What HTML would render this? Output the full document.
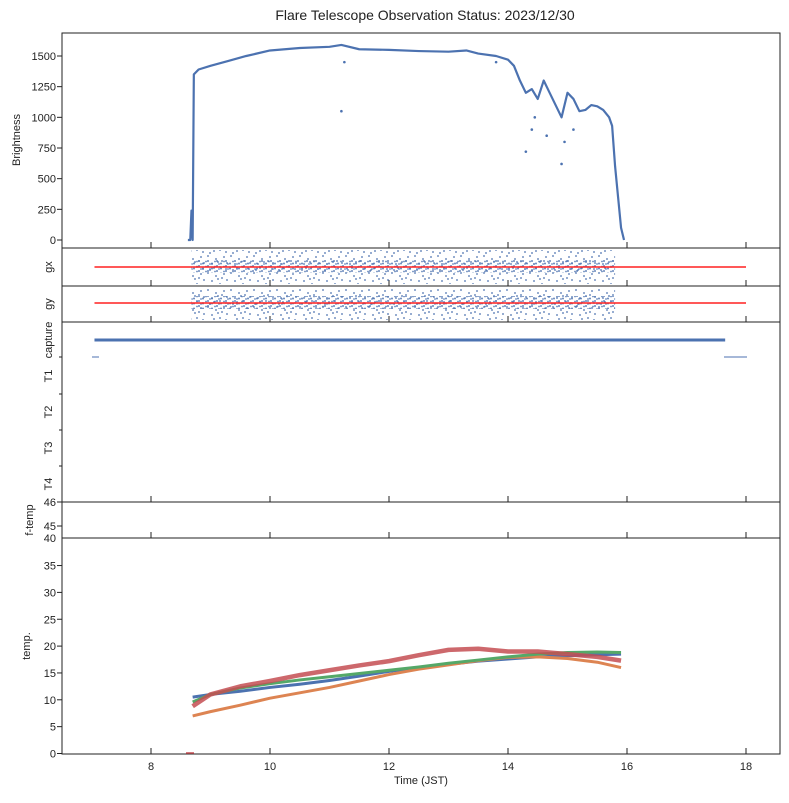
<!DOCTYPE html>
<html><head><meta charset="utf-8"><style>
body{margin:0;background:#fff;font-family:"Liberation Sans",sans-serif}
svg text{font-family:"Liberation Sans",sans-serif;fill:#222}
</style></head><body>
<svg id="c" width="789" height="798" xmlns="http://www.w3.org/2000/svg">
<defs>
<pattern id="dots" width="23" height="17" patternUnits="userSpaceOnUse">
<circle cx="1" cy="1" r="0.9" fill="#4c72b0"/><circle cx="9" cy="4" r="0.9" fill="#4c72b0"/><circle cx="17" cy="2" r="0.9" fill="#4c72b0"/>
<circle cx="5" cy="9" r="0.9" fill="#4c72b0"/><circle cx="13" cy="12" r="0.9" fill="#4c72b0"/><circle cx="20" cy="8" r="0.9" fill="#4c72b0"/>
<circle cx="3" cy="15" r="0.9" fill="#4c72b0"/><circle cx="11" cy="7" r="0.9" fill="#4c72b0"/><circle cx="19" cy="14" r="0.9" fill="#4c72b0"/>
<circle cx="7" cy="13" r="0.9" fill="#4c72b0"/><circle cx="15" cy="6" r="0.9" fill="#4c72b0"/>
</pattern>
<pattern id="dense" width="9" height="5" patternUnits="userSpaceOnUse">
<circle cx="1" cy="1" r="1" fill="#4c72b0"/><circle cx="5" cy="3.5" r="1" fill="#4c72b0"/><circle cx="8" cy="1.5" r="0.9" fill="#4c72b0"/><circle cx="3" cy="4" r="0.9" fill="#4c72b0"/>
</pattern>
</defs>
<text x="425" y="20" text-anchor="middle" font-size="14">Flare Telescope Observation Status: 2023/12/30</text>
<g id="g"></g>
</svg>
<script>
const xTicks=[8,10,12,14,16,18];
const brightT=[8.62,8.66,8.68,8.7,8.72,8.8,9,9.3,9.6,10,10.5,11,11.2,11.5,12,12.5,13,13.3,13.5,13.8,14,14.1,14.2,14.3,14.4,14.5,14.6,14.7,14.8,14.9,15,15.1,15.2,15.3,15.4,15.5,15.6,15.7,15.75,15.8,15.85,15.9,15.95];
const brightV=[0,0,240,0,1350,1390,1420,1460,1500,1545,1565,1575,1590,1555,1550,1540,1535,1545,1520,1500,1470,1420,1300,1200,1230,1150,1300,1200,1100,1000,1200,1150,1050,1060,1100,1090,1060,1000,930,600,350,100,0];
const brightOutT=[11.2,11.25,14.3,14.4,14.45,14.9,14.95,15.1,13.8,14.65];
const brightOutV=[1050,1450,720,900,1000,620,800,900,1450,850];
const bTicks=[0,250,500,750,1000,1250,1500];
const tempT=[8.7,9,9.5,10,10.5,11,11.5,12,12.5,13,13.5,14,14.5,15,15.5,15.9];
const tempBlue=[10.5,11.0,11.6,12.3,12.9,13.6,14.4,15.3,16.0,16.6,17.2,17.6,18.0,18.2,18.4,18.5];
const tempOrange=[7.0,7.8,9.0,10.3,11.3,12.3,13.5,14.7,15.7,16.5,17.3,17.9,18.0,17.7,17.0,16.0];
const tempGreen=[9.6,11.0,12.2,13.0,13.7,14.3,14.9,15.5,16.1,16.8,17.4,18.0,18.5,18.8,18.9,18.8];
const tempRed=[8.8,11.0,12.5,13.5,14.6,15.5,16.4,17.2,18.3,19.3,19.5,19.0,19.0,18.5,18.0,17.3];
const tTicks=[0,5,10,15,20,25,30,35];
const captureRange=[7.05,17.65];
const guideRange=[8.68,15.8];

const NS='http://www.w3.org/2000/svg',G=document.getElementById('g');
const L=62,R=780;
const X=t=>151+(t-8)*59.5;
const YB=v=>240-v*0.12267;
const YT=v=>753.5-v*5.37;
function el(tag,a,p){const e=document.createElementNS(NS,tag);for(const k in a)e.setAttribute(k,a[k]);(p||G).appendChild(e);return e;}
function txt(x,y,s,o){const e=el('text',Object.assign({x:x,y:y,'font-size':11},o||{}));e.textContent=s;return e;}
const panels=[[33,248,'brightness-panel'],[248,286,'gx-panel'],[286,322,'gy-panel'],[322,502,'capture-panel'],[502,538,'ftemp-panel'],[538,754,'temp-panel']];
panels.forEach(p=>{const r=el('rect',{x:L,y:p[0],width:R-L,height:p[1]-p[0],fill:'none',stroke:'#222','stroke-width':1});

xTicks.forEach(t=>{el('line',{x1:X(t),x2:X(t),y1:p[1],y2:p[1]-6,stroke:'#222'});});});
xTicks.forEach(t=>{const e=txt(X(t),770,String(t),{'text-anchor':'middle'});});
let xl=txt(421,784,'Time (JST)',{'text-anchor':'middle'});
bTicks.forEach(v=>{el('line',{x1:L,x2:L-5,y1:YB(v),y2:YB(v),stroke:'#222'});const e=txt(56,YB(v)+4,String(v),{'text-anchor':'end'});});
let yl=txt(20,140,'Brightness',{transform:'rotate(-90 20 140)','text-anchor':'middle'});
let d='';brightT.forEach((t,i)=>{d+=(i?'L':'M')+X(t)+' '+YB(brightV[i]);});
let bp=el('path',{d:d,fill:'none',stroke:'#4c72b0','stroke-width':2.2,'stroke-linejoin':'round'});

brightOutT.forEach((t,i)=>{const c=el('circle',{cx:X(t),cy:YB(brightOutV[i]),r:1.3,fill:'#4c72b0'});});
[[248,286,'gx',267],[286,322,'gy',303]].forEach(p=>{
 const b=el('rect',{x:X(guideRange[0]),y:p[0]+2,width:X(guideRange[1])-X(guideRange[0]),height:p[1]-p[0]-4,fill:'url(#dots)'});
 
 const dense=el('rect',{x:X(guideRange[0]),y:p[3]-7,width:X(guideRange[1])-X(guideRange[0]),height:13,fill:'url(#dense)',opacity:0.85});
 
 const ln=el('line',{x1:X(7.05),x2:X(18),y1:p[3],y2:p[3],stroke:'#ff2020','stroke-width':1.6});
 
 const e=txt(52,(p[0]+p[1])/2,p[2],{transform:'rotate(-90 52 '+(p[0]+p[1])/2+')','text-anchor':'middle'});
});
['capture','T1','T2','T3','T4'].forEach((s,i)=>{const y=[340,376,412,448,484][i];const e=txt(52,y,s,{transform:'rotate(-90 52 '+y+')','text-anchor':'middle'});});
[357,394,430,466].forEach(y=>el('line',{x1:L,x2:L-3,y1:y,y2:y,stroke:'#222'}));
let cl=el('line',{x1:X(captureRange[0]),x2:X(captureRange[1]),y1:340,y2:340,stroke:'#4c72b0','stroke-width':3});

el('line',{x1:92,x2:99,y1:357,y2:357,stroke:'#4c72b0','stroke-width':1});
el('line',{x1:724,x2:747,y1:357,y2:357,stroke:'#4c72b0','stroke-width':1});
[[46,502],[45,526]].forEach(p=>{el('line',{x1:L,x2:L-5,y1:p[1],y2:p[1],stroke:'#222'});txt(56,p[1]+4,String(p[0]),{'text-anchor':'end'});});
let fl=txt(33,520,'f-temp',{transform:'rotate(-90 33 520)','text-anchor':'middle'});
txt(56,542,'40',{'text-anchor':'end'});
tTicks.forEach(v=>{el('line',{x1:L,x2:L-5,y1:YT(v),y2:YT(v),stroke:'#222'});const e=txt(56,YT(v)+4,String(v),{'text-anchor':'end'});});
let tl=txt(30,646,'temp.',{transform:'rotate(-90 30 646)','text-anchor':'middle'});
[[tempBlue,'#4c72b0',3,'temp-blue'],[tempOrange,'#dd8452',3,'temp-orange'],[tempGreen,'#55a868',3,'temp-green'],[tempRed,'#c44e52',4.5,'temp-red']].forEach(s=>{
 let d='';tempT.forEach((t,i)=>{d+=(i?'L':'M')+X(t)+' '+YT(s[0][i]);});
 const p=el('path',{d:d,fill:'none',stroke:s[1],'stroke-width':s[2],'stroke-linejoin':'round',opacity:s[3]==='temp-red'?0.85:1});
 
});
el('line',{x1:186,x2:194,y1:753,y2:753,stroke:'#c44e52','stroke-width':1.5});
</script>
</body></html>
